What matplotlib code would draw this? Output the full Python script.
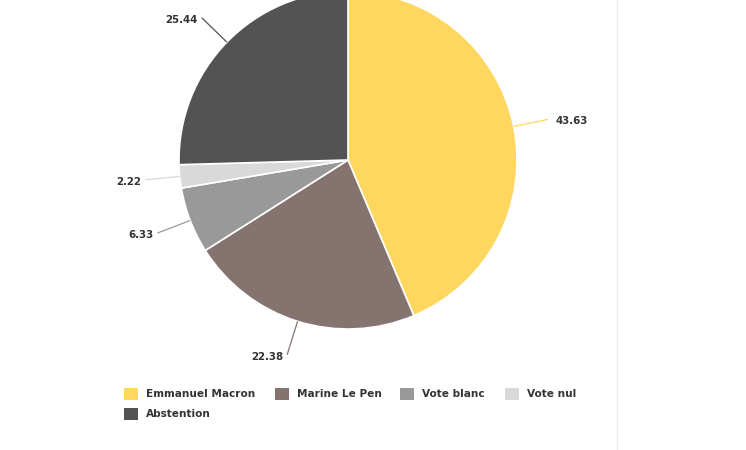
import numpy as np
import matplotlib.pyplot as plt
from matplotlib.patches import Rectangle

# data
names = ["Emmanuel Macron", "Marine Le Pen", "Vote blanc", "Vote nul", "Abstention"]
values = [43.63, 22.38, 6.33, 2.22, 25.44]
colors = ["#FFD75E", "#85736F", "#999999", "#D9D9D9", "#535353"]

W, H = 746, 450
cx, cy, R = 348, H - 160, 169

fig = plt.figure(figsize=(W / 100, H / 100), dpi=100)
ax = fig.add_axes([0, 0, 1, 1])

wedges, _ = ax.pie(values, colors=colors, center=(cx, cy), radius=R,
                   startangle=90, counterclock=False,
                   wedgeprops=dict(edgecolor="white", linewidth=1.2))
ax.set_xlim(0, W)
ax.set_ylim(0, H)
ax.set_aspect("equal")
ax.axis("off")

# data labels with connectors
for w, v, c in zip(wedges, values, colors):
    a = np.deg2rad((w.theta1 + w.theta2) / 2)
    ca, sa = np.cos(a), np.sin(a)
    x0, y0 = cx + R * ca, cy + R * sa
    x1, y1 = cx + 204 * ca, cy + 204 * sa
    ax.plot([x0, x1], [y0, y1], color=c, lw=0.9, solid_capstyle="butt")
    if ca > 0:
        ax.text(x1 + 8, y1 - 2, f"{v:.2f}", ha="left", va="center",
                fontsize=7.4, fontweight="bold", color="#333333")
    else:
        ax.text(x1 - 4, y1 - 2, f"{v:.2f}", ha="right", va="center",
                fontsize=7.4, fontweight="bold", color="#333333")

# thin separator on the right
ax.plot([617, 617], [0, H], color="#EBEBEB", lw=1)

# legend
leg_x = [124, 275, 400, 505, 124]
leg_y = [394, 394, 394, 394, 414]
for n, c, lx, ly in zip(names, colors, leg_x, leg_y):
    ax.add_patch(Rectangle((lx, H - ly - 6), 14, 12, color=c, lw=0))
    ax.text(lx + 22, H - ly, n, ha="left", va="center",
            fontsize=7.6, fontweight="bold", color="#333333")

fig.savefig("out.png", dpi=100)
